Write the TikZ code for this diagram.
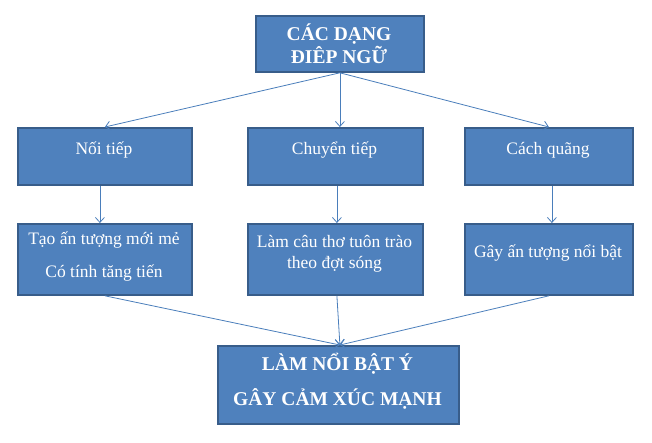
\documentclass[tikz,border=0pt]{standalone}
\usepackage{fontspec}
\setmainfont{Liberation Serif}
\usetikzlibrary{arrows.meta}
\definecolor{boxfill}{HTML}{4F81BD}
\definecolor{boxline}{HTML}{385D8A}
\definecolor{conn}{HTML}{4A7EBB}
\tikzset{
  box/.style={draw=boxline, line width=1.8pt, fill=boxfill, rectangle, inner sep=0pt, anchor=north west},
  lbl/.style={text=white, anchor=base, inner sep=0pt, font=\fontsize{17.5}{17.5}\selectfont},
  blbl/.style={lbl, font=\fontsize{19.5}{19.5}\selectfont\bfseries},
  conn/.style={draw=conn, line width=0.8pt, -{Straight Barb[length=5pt,width=9pt,line width=0.8pt]}},
}
\begin{document}
\begin{tikzpicture}[x=1pt,y=-1pt]
\useasboundingbox (0,0) rectangle (652,442);
% boxes
\node[box, minimum width=168pt, minimum height=56pt] (top) at (255,15) {};
\node[box, minimum width=174pt, minimum height=57pt] (a1) at (17,127) {};
\node[box, minimum width=175pt, minimum height=57pt] (b1) at (247,127) {};
\node[box, minimum width=168pt, minimum height=57pt] (c1) at (464,127) {};
\node[box, minimum width=174pt, minimum height=71pt] (a2) at (17,223) {};
\node[box, minimum width=175pt, minimum height=71pt] (b2) at (247,223) {};
\node[box, minimum width=168pt, minimum height=71pt] (c2) at (464,223) {};
\node[box, minimum width=241pt, minimum height=78pt] (bot) at (217,345) {};
% labels
\node[blbl] (t1) at (339,40) {CÁC DẠNG};
\node[blbl] (t2) at (339,63) {ĐIÊP NGỮ};
\node[lbl] (la1) at (104,154) {Nối tiếp};
\node[lbl] (lb1) at (334.5,154) {Chuyển tiếp};
\node[lbl] (lc1) at (548,154) {Cách quãng};
\node[lbl] (la2a) at (104,244) {Tạo ấn tượng mới mẻ};
\node[lbl] (la2b) at (104,277) {Có tính tăng tiến};
\node[lbl] (lb2a) at (334.5,247) {Làm câu thơ tuôn trào};
\node[lbl] (lb2b) at (334.5,268) {theo đợt sóng};
\node[lbl] (lc2) at (548,257) {Gây ấn tượng nổi bật};
\node[blbl] (lbot1) at (337.5,370) {LÀM NỔI BẬT Ý};
\node[blbl] (lbot2) at (337.5,405) {GÂY CẢM XÚC MẠNH};
% connectors
\coordinate (ts) at (top.south);
\draw[conn] (ts) -- (a1.north);
\draw[conn] (ts) -- (ts |- b1.north);
\draw[conn] (ts) -- (c1.north);
\draw[conn] ([xshift=-5pt]a1.south) -- ([xshift=-5pt]a2.north);
\draw[conn] ([xshift=1.5pt]b1.south) -- ([xshift=1.5pt]b2.north);
\draw[conn] ([xshift=3pt]c1.south) -- ([xshift=3pt]c2.north);
\coordinate (bn) at ([xshift=1.5pt]bot.north);
\draw[conn] (a2.south) -- (bn);
\draw[conn] ([xshift=1.5pt]b2.south) -- (bn);
\draw[conn] (c2.south) -- (bn);
\end{tikzpicture}
\end{document}
